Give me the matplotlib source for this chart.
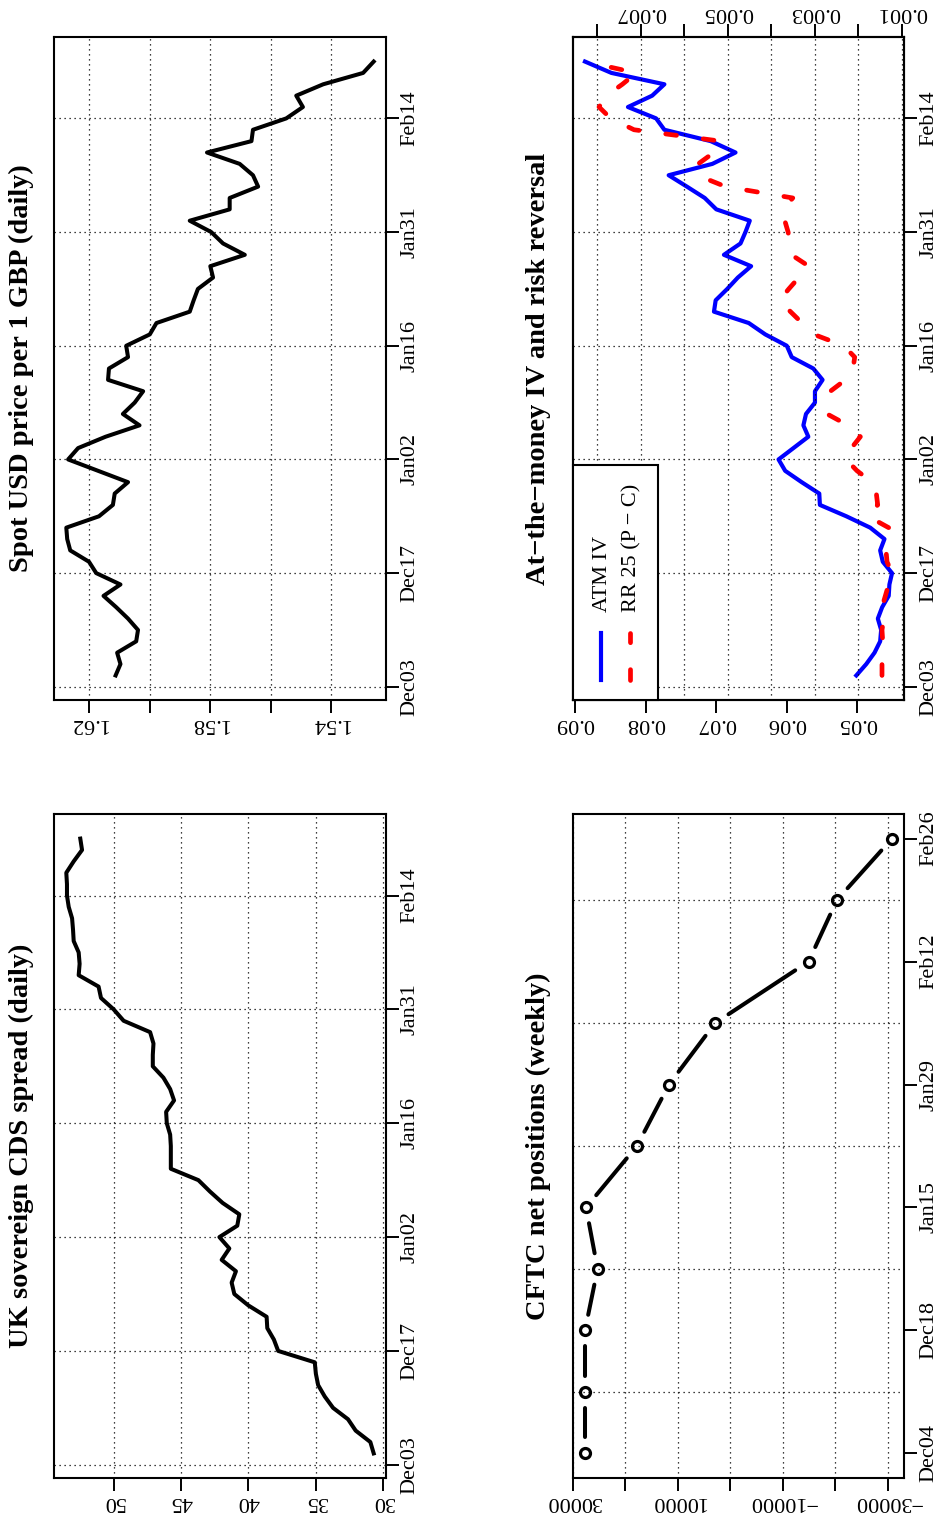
import numpy as np
import matplotlib
matplotlib.use("Agg")
import matplotlib.pyplot as plt
from matplotlib.collections import LineCollection
from matplotlib.lines import Line2D
from matplotlib.patches import Rectangle

plt.rcParams["font.family"] = ["Liberation Serif", "DejaVu Serif"]

# ── data ─────────────────────────────────────────────────────────────────────
# daily series, trading-day index 2..56 (index 1 = Dec03)
day_idx = np.arange(2, 57)
day_ticks = [1, 11, 21, 31, 41, 51]
day_labels = ["Dec03", "Dec17", "Jan02", "Jan16", "Jan31", "Feb14"]

cds_spread = [30.69, 30.94, 32.03, 32.60, 33.71, 34.33, 34.82, 34.99, 35.07, 37.79,
              38.11, 38.60, 38.65, 40.01, 41.05, 41.25, 40.93, 41.99, 41.42, 42.16,
              40.83, 40.68, 41.92, 42.86, 43.72, 45.77, 45.77, 45.77, 45.82, 46.07,
              46.12, 45.53, 45.82, 46.32, 47.11, 47.11, 47.06, 47.31, 49.28, 50.02,
              50.96, 51.14, 52.62, 52.55, 52.62, 52.99, 53.04, 53.11, 53.36, 53.49,
              53.49, 53.54, 52.99, 52.37, 52.50]

spot_usd = [1.6112, 1.6096, 1.6107, 1.6044, 1.6038, 1.6071, 1.6110, 1.6152, 1.6096, 1.6176,
            1.6200, 1.6262, 1.6272, 1.6275, 1.6167, 1.6121, 1.6115, 1.6071, 1.6170, 1.6269,
            1.6236, 1.6145, 1.6033, 1.6088, 1.6049, 1.6021, 1.6137, 1.6134, 1.6071, 1.6077,
            1.5999, 1.5977, 1.5867, 1.5854, 1.5840, 1.5790, 1.5799, 1.5685, 1.5757, 1.5796,
            1.5867, 1.5735, 1.5735, 1.5641, 1.5658, 1.5702, 1.5810, 1.5663, 1.5658, 1.5548,
            1.5493, 1.5515, 1.5426, 1.5294, 1.5259]

atm_iv = [0.05014, 0.04873, 0.04756, 0.04676, 0.04662, 0.04709, 0.04648, 0.04555, 0.04545, 0.04508,
          0.04639, 0.04676, 0.04615, 0.04817, 0.05155, 0.05530, 0.05539, 0.05788, 0.06022, 0.06116,
          0.05905, 0.05694, 0.05764, 0.05727, 0.05600, 0.05600, 0.05492, 0.05624, 0.05929, 0.05999,
          0.06304, 0.06538, 0.07031, 0.07007, 0.06843, 0.06693, 0.06505, 0.06890, 0.06655, 0.06585,
          0.06524, 0.06998, 0.07162, 0.07415, 0.07673, 0.07054, 0.06726, 0.07077, 0.07734, 0.07851,
          0.08250, 0.07907, 0.07734, 0.08484, 0.08859]

rr25 = [0.001459, 0.001459, 0.001420, 0.001443, 0.001459, 0.001420, 0.001459, 0.001382, 0.001306, 0.001229,
        0.001344, 0.001367, 0.001367, 0.001306, 0.001780, 0.001558, 0.001589, 0.001688, 0.002032, 0.002284,
        0.002162, 0.001956, 0.002239, 0.002720, 0.002743, 0.002644, 0.002300, 0.002124, 0.002086, 0.002338,
        0.003026, 0.003294, 0.003561, 0.003813, 0.003599, 0.003370, 0.003141, 0.003538, 0.003576, 0.003615,
        0.003691, 0.003737, 0.003508, 0.005052, 0.005702, 0.005679, 0.005320, 0.005167, 0.007154, 0.007690,
        0.007957, 0.007789, 0.007422, 0.007101, 0.008280]

# weekly CFTC report index 1..11
week_idx = np.arange(1, 12)
week_ticks = [1, 3, 5, 7, 9, 11]
week_labels = ["Dec04", "Dec18", "Jan15", "Jan29", "Feb12", "Feb26"]
cftc_net = [27700, 27700, 27700, 25300, 27500, 17800, 11700, 2900, -14900, -20300, -30800]

W, H = 935, 1522
GRID = dict(color="black", linestyle=(0, (1, 3)), linewidth=0.9)


def r_range(v):
    lo, hi = float(min(v)), float(max(v))
    pad = 0.04 * (hi - lo)
    return lo - pad, hi + pad


def box(x0, y0, x1, y1):
    return [x0 / W, 1 - y1 / H, (x1 - x0) / W, (y1 - y0) / H]


def frame(ax, vals, vticks, vlabels, idx, dticks, dlabels):
    lo, hi = r_range(vals)
    ax.set_xlim(hi, lo)               # values grow to the left
    ax.set_ylim(*r_range(idx))
    ax.set_xticks(vticks, vlabels, rotation=180)
    ax.yaxis.tick_right()
    ax.set_yticks(dticks, dlabels, rotation=90, va="center")
    ax.tick_params(axis="x", length=9.5, width=1.4, pad=0.3, labelsize=16)
    ax.tick_params(axis="y", length=9.5, width=1.4, pad=1.2, labelsize=16)
    for s in ax.spines.values():
        s.set_linewidth(1.5)
    ax.set_axisbelow(True)


def title(ax, text, x):
    ax.text(x, 0.5, text, transform=ax.transAxes, rotation=90, ha="center",
            va="center", fontsize=20.5, fontweight="bold")


fig = plt.figure(figsize=(W / 100, H / 100), dpi=100, facecolor="white")

# ── UK CDS ───────────────────────────────────────────────────────────────────
ax = fig.add_axes(box(54, 814, 386, 1478))
ax.plot(cds_spread, day_idx, color="black", lw=2.9, solid_joinstyle="round")
frame(ax, cds_spread, [50, 45, 40, 35, 30], ["50", "45", "40", "35", "30"],
      day_idx, day_ticks, day_labels)
ax.grid(True, **GRID)
title(ax, "UK sovereign CDS spread (daily)", -0.099)

# ── Spot USD ─────────────────────────────────────────────────────────────────
ax = fig.add_axes(box(54, 37, 386, 700))
ax.plot(spot_usd, day_idx, color="black", lw=2.9, solid_joinstyle="round")
frame(ax, spot_usd, [1.62, 1.60, 1.58, 1.56, 1.54], ["1.62", "", "1.58", "", "1.54"],
      day_idx, day_ticks, day_labels)
ax.grid(True, **GRID)
title(ax, "Spot USD price per 1 GBP (daily)", -0.099)

# ── ATM IV and risk reversal ─────────────────────────────────────────────────
ax = fig.add_axes(box(572.7, 37, 904.3, 700))
ax.plot(atm_iv, day_idx, color="blue", lw=3.0, solid_joinstyle="round")
frame(ax, atm_iv, [0.09, 0.08, 0.07, 0.06, 0.05], ["0.09", "0.08", "0.07", "0.06", "0.05"],
      day_idx, day_ticks, day_labels)
ax.grid(True, axis="y", **GRID)
title(ax, "At\u2212the\u2212money IV and risk reversal", -0.103)

ax2 = ax.twiny()
ax2.plot(rr25, day_idx, color="red", lw=3.4, linestyle=(0, (2.3, 5.7)),
         dash_capstyle="round")
lo, hi = r_range(rr25)
ax2.set_xlim(hi, lo)
rr_ticks = [0.001, 0.002, 0.003, 0.004, 0.005, 0.006, 0.007, 0.008]
rr_labels = ["0.001", "", "0.003", "", "0.005", "", "0.007", ""]
ax2.set_xticks(rr_ticks, rr_labels, rotation=180)
ax2.tick_params(axis="x", length=9.5, width=1.4, pad=1.5, labelsize=16)
for s in ax2.spines.values():
    s.set_linewidth(1.5)
ax2.set_axisbelow(True)
ax2.grid(True, axis="x", **GRID)

# legend, laid out sideways like the rest of the page
ax2.add_patch(Rectangle((0, 0), 0.258, 0.3544, transform=ax2.transAxes,
                        facecolor="white", edgecolor="black", lw=1.5,
                        zorder=10, clip_on=False))
ax2.add_line(Line2D([0.0853, 0.0853], [0.0302, 0.101], transform=ax2.transAxes,
                    color="blue", lw=3.0, zorder=11))
ax2.add_line(Line2D([0.1728, 0.1728], [0.0302, 0.101], transform=ax2.transAxes,
                    color="red", lw=3.4, linestyle=(0, (2.3, 5.7)),
                    dash_capstyle="round", zorder=11))
ax2.text(0.0899, 0.1332, "ATM IV", transform=ax2.transAxes, rotation=90,
         ha="center", va="bottom", fontsize=16, zorder=11)
ax2.text(0.179, 0.1332, "RR 25 (P \u2212 C)", transform=ax2.transAxes, rotation=90,
         ha="center", va="bottom", fontsize=16, zorder=11)

# ── CFTC net positions ───────────────────────────────────────────────────────
ax = fig.add_axes(box(572.7, 814, 904.3, 1478))
frame(ax, cftc_net, [30000, 20000, 10000, 0, -10000, -20000, -30000],
      ["30000", "", "10000", "", "\u221210000", "", "\u221230000"],
      week_idx, week_ticks, week_labels)
ax.set_yticks([2, 4, 6, 8, 10], minor=True)
ax.tick_params(axis="y", which="minor", length=0)
ax.grid(True, axis="x", which="major", **GRID)
ax.grid(True, axis="y", which="minor", **GRID)

# type="b": line segments stop short of the open circles
pts = ax.transData.transform(np.column_stack([cftc_net, week_idx]))
gap = 16.0
segs = []
for p, q in zip(pts[:-1], pts[1:]):
    d = q - p
    n = np.hypot(*d)
    if n > 2 * gap:
        u = d / n
        segs.append([p + u * gap, q - u * gap])
inv = ax.transData.inverted()
segs = [inv.transform(np.array(s)) for s in segs]
ax.add_collection(LineCollection(segs, colors="black", linewidths=2.9,
                                 capstyle="round"))
ax.plot(cftc_net, week_idx, "o", mfc="none", mec="black", ms=7.2, mew=2.3)
title(ax, "CFTC net positions (weekly)", -0.103)

fig.savefig("out.png", dpi=100, facecolor="white")
